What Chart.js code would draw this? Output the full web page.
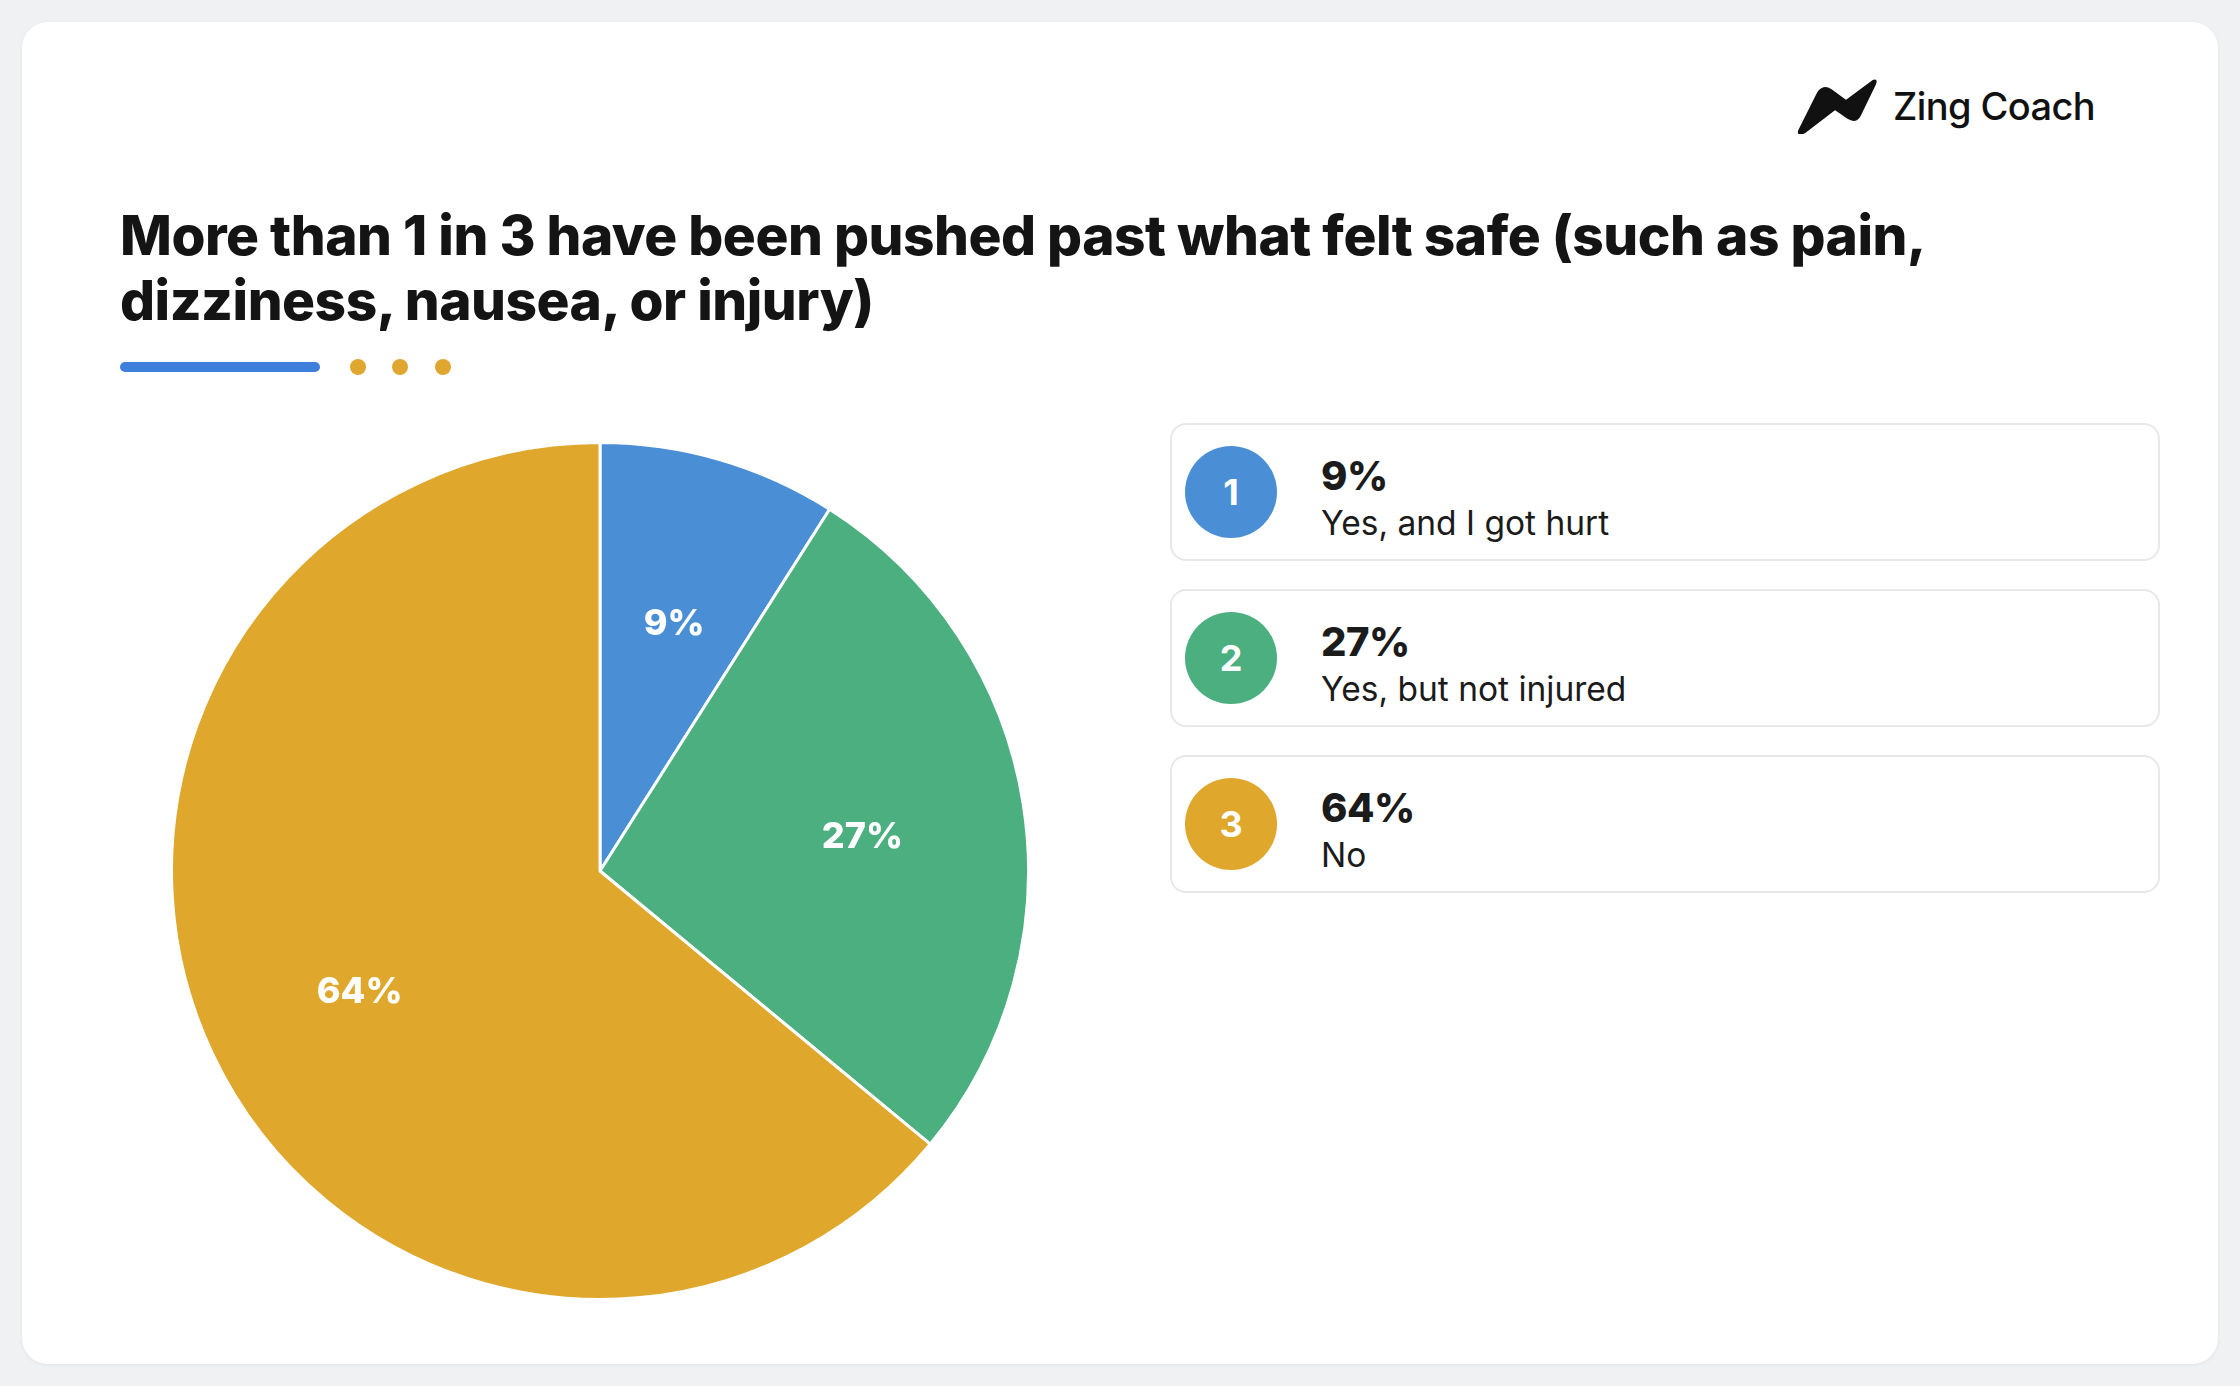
<!DOCTYPE html>
<html>
<head>
<meta charset="utf-8">
<script src="https://cdn.jsdelivr.net/npm/chart.js@4.4.1/dist/chart.umd.min.js"></script>
<style>
  html, body { margin: 0; padding: 0; }
  body { width: 2240px; height: 1386px; background: #f0f1f3; font-family: "Inter", "Noto Sans", sans-serif; position: relative; overflow: hidden; }
  .card { position: absolute; left: 22px; top: 22px; width: 2196px; height: 1342px; background: #fff; border-radius: 26px; box-shadow: 0 1px 4px rgba(0,0,0,0.06); }
  .logo { position: absolute; left: 1797px; top: 78px; display: flex; align-items: center; }
  .logo span { font-size: 38px; font-weight: 500; color: #111; margin-left: 16px; letter-spacing: -0.6px; }
  .title { position: absolute; left: 120px; top: 203px; font-size: 55px; font-weight: 800; line-height: 65px; color: #141414; letter-spacing: -0.5px; white-space: nowrap; }
  .bar { position: absolute; left: 120px; top: 362px; width: 200px; height: 10px; border-radius: 5px; background: #3f7fdc; }
  .dot { position: absolute; top: 359px; width: 16px; height: 16px; border-radius: 50%; background: #e0a730; }
  #pieBox { position: absolute; left: 170px; top: 441px; width: 860px; height: 860px; }
  #legenda { position: absolute; left: 1170px; top: 423px; width: 990px; }
  .item { position: relative; height: 134px; border: 2px solid #e7e8ea; border-radius: 16px; margin-bottom: 28px; box-sizing: content-box; }
  .num { position: absolute; left: 13px; top: 21px; width: 92px; height: 92px; border-radius: 50%; color: #fff; font-size: 36px; font-weight: 700; text-align: center; line-height: 92px; }
  .pct { position: absolute; left: 149px; top: 26px; font-size: 40px; font-weight: 800; color: #1b1b1b; line-height: 50px; letter-spacing: -0.5px; }
  .desc { position: absolute; left: 149px; top: 77px; font-size: 33.5px; font-weight: 400; color: #1b1b1b; line-height: 42px; }
</style>
</head>
<body>
<div class="card"></div>

<div class="logo">
  <svg width="80" height="56" viewBox="0 0 80 56">
    <path d="M2 53 L21 15 Q26 7 34 12 L49 23 L76 3 Q80 1 78 6 L63 37 Q59 45 51 40 L38 31 L8 54 Q1 58 2 53 Z" fill="#111" stroke="#111" stroke-width="2" stroke-linejoin="round"/>
  </svg>
  <span>Zing Coach</span>
</div>

<div class="title">More than 1 in 3 have been pushed past what felt safe (such as pain,<br>dizziness, nausea, or injury)</div>
<div class="bar"></div>
<div class="dot" style="left:350px"></div>
<div class="dot" style="left:392px"></div>
<div class="dot" style="left:435px"></div>

<div id="pieBox"><canvas id="graficoPizza"></canvas></div>
<div id="legenda"></div>

<script>
// Dados do gráfico
const categorias = ['Yes, and I got hurt', 'Yes, but not injured', 'No'];
const valores = [9, 27, 64];
const rotulos = ['9%', '27%', '64%'];
const cores = ['#4a8fd6', '#4caf7f', '#dfa72c'];

// Monta os cartões da legenda
const legenda = document.getElementById('legenda');
categorias.forEach((cat, i) => {
    const item = document.createElement('div');
    item.className = 'item';

    const num = document.createElement('div');
    num.className = 'num';
    num.style.background = cores[i];
    num.textContent = i + 1;

    const pct = document.createElement('div');
    pct.className = 'pct';
    pct.textContent = rotulos[i];

    const desc = document.createElement('div');
    desc.className = 'desc';
    desc.textContent = cat;

    item.appendChild(num);
    item.appendChild(pct);
    item.appendChild(desc);
    legenda.appendChild(item);
});

// Plugin simples para escrever a porcentagem dentro de cada fatia
const rotulosFatias = {
    id: 'rotulosFatias',
    afterDatasetsDraw(chart) {
        const ctx = chart.ctx;
        const meta = chart.getDatasetMeta(0);
        ctx.save();
        ctx.fillStyle = '#ffffff';
        ctx.font = '800 36px Inter, "Noto Sans", sans-serif';
        ctx.textAlign = 'center';
        ctx.textBaseline = 'middle';
        meta.data.forEach((arc, i) => {
            const meio = (arc.startAngle + arc.endAngle) / 2;
            const r = arc.outerRadius * 0.62;
            ctx.fillText(rotulos[i], arc.x + Math.cos(meio) * r, arc.y + Math.sin(meio) * r + 8);
        });
        ctx.restore();
    }
};

new Chart(document.getElementById('graficoPizza'), {
    type: 'pie',
    data: {
        labels: categorias,
        datasets: [{
            data: valores,
            backgroundColor: cores,
            borderColor: '#ffffff',
            borderWidth: 3
        }]
    },
    options: {
        responsive: true,
        maintainAspectRatio: false,
        animation: false,
        layout: { padding: 0 },
        plugins: {
            legend: { display: false },
            tooltip: { enabled: false }
        }
    },
    plugins: [rotulosFatias]
});
</script>
</body>
</html>
